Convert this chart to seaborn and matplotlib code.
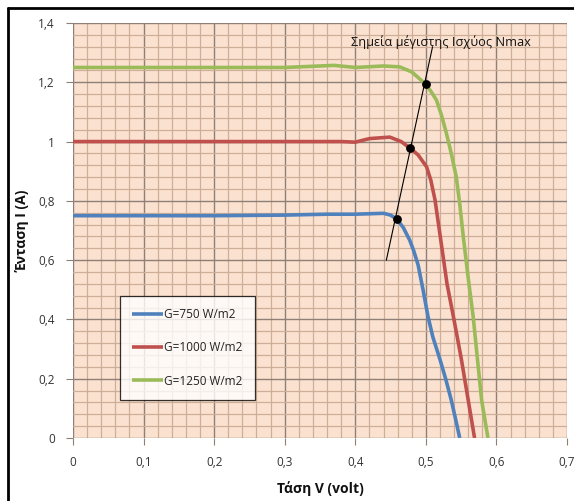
import numpy as np
import pandas as pd
import matplotlib
matplotlib.use("Agg")
import matplotlib.pyplot as plt
from matplotlib.ticker import MultipleLocator, FuncFormatter
import seaborn as sns

# ---- data ----
labels = ["G=750 W/m2", "G=1000 W/m2", "G=1250 W/m2"]
v_750 = [0, 0.1, 0.2, 0.3, 0.36, 0.40, 0.44, 0.45, 0.4585, 0.468, 0.477, 0.483, 0.489, 0.496, 0.503, 0.51, 0.52, 0.528, 0.536, 0.542, 0.548]
i_750 = [0.75, 0.75, 0.75, 0.752, 0.755, 0.755, 0.758, 0.752, 0.739, 0.71, 0.668, 0.63, 0.584, 0.50, 0.41, 0.34, 0.265, 0.20, 0.128, 0.065, 0.0]
v_1000 = [0, 0.1, 0.2, 0.3, 0.38, 0.40, 0.42, 0.449, 0.465, 0.477, 0.489, 0.501, 0.507, 0.513, 0.518, 0.524, 0.53, 0.539, 0.55, 0.56, 0.569]
i_1000 = [1.0, 1.0, 1.0, 1.0, 1.0, 0.998, 1.01, 1.015, 1.0, 0.979, 0.955, 0.915, 0.87, 0.803, 0.72, 0.62, 0.52, 0.41, 0.27, 0.128, 0.0]
v_1250 = [0, 0.1, 0.2, 0.3, 0.37, 0.40, 0.44, 0.463, 0.48, 0.4995, 0.507, 0.515, 0.522, 0.529, 0.536, 0.543, 0.548, 0.553, 0.56, 0.567, 0.579, 0.588]
i_1250 = [1.25, 1.25, 1.25, 1.25, 1.257, 1.25, 1.255, 1.252, 1.235, 1.194, 1.17, 1.14, 1.09, 1.029, 0.96, 0.882, 0.79, 0.68, 0.54, 0.41, 0.128, 0.0]
mpp_v = [0.4585, 0.477, 0.4995]
mpp_i = [0.739, 0.979, 1.194]
locus_v = [0.444, 0.5095]
locus_i = [0.60, 1.32]
annot_text = "Σημεία μέγιστης Ισχύος Nmax"
xlabel = "Τάση V (volt)"
ylabel = "Ένταση I (A)"

colors = ["#4F81BD", "#C0504D", "#9BBB59"]

df = pd.concat([
    pd.DataFrame({"V": v_750, "I": i_750, "G": labels[0]}),
    pd.DataFrame({"V": v_1000, "I": i_1000, "G": labels[1]}),
    pd.DataFrame({"V": v_1250, "I": i_1250, "G": labels[2]}),
], ignore_index=True)

sns.set_theme(style="white")
plt.rcParams["font.family"] = ["Open Sans", "DejaVu Sans"]

W, H = 574, 501
fig = plt.figure(figsize=(W / 100, H / 100), dpi=100)
fig.patch.set_facecolor("white")
ax = fig.add_axes([73 / W, 1 - 438 / H, (567 - 73) / W, (438 - 23) / H])
ax.set_facecolor("#FBE2D0")

# grid
ax.set_xlim(0, 0.7)
ax.set_ylim(0, 1.4)
ax.xaxis.set_major_locator(MultipleLocator(0.1))
ax.xaxis.set_minor_locator(MultipleLocator(0.02))
ax.yaxis.set_major_locator(MultipleLocator(0.2))
ax.yaxis.set_minor_locator(MultipleLocator(0.04))
ax.grid(which="minor", color="#CDAE98", linewidth=0.9)
ax.grid(which="major", color="#8E8076", linewidth=1.0)
ax.set_axisbelow(True)

sns.lineplot(data=df, x="V", y="I", hue="G", palette=colors, linewidth=2.6,
             sort=False, estimator=None, ax=ax, legend=True, zorder=3)
for ln in ax.get_lines():
    ln.set_solid_joinstyle("round")
    ln.set_solid_capstyle("butt")

ax.plot(locus_v, locus_i, color="black", linewidth=0.8, zorder=4)
sns.scatterplot(x=mpp_v, y=mpp_i, color="black", s=40, edgecolor="black",
                linewidth=0, ax=ax, zorder=5)

ax.text(0.521, 1.337, annot_text, ha="center", va="center", fontsize=9.2,
        color="#111111", zorder=6)

fmt = FuncFormatter(lambda v, p: ("%g" % round(v, 2)).replace(".", ","))
ax.xaxis.set_major_formatter(fmt)
ax.yaxis.set_major_formatter(fmt)
ax.tick_params(axis="both", which="major", length=5, width=0.8, color="#8E8076",
               labelsize=8.5, labelcolor="#333333", bottom=True, left=True)
ax.tick_params(axis="x", pad=8)
ax.tick_params(axis="y", pad=8)
ax.tick_params(which="minor", length=0)

for s in ax.spines.values():
    s.set_visible(False)

ax.set_xlabel(xlabel, fontsize=10, fontweight="bold", color="#111111", labelpad=9)
ax.set_ylabel(ylabel, fontsize=10, fontweight="bold", color="#111111", labelpad=6)

leg = ax.legend(loc="upper left", bbox_to_anchor=((120 - 73) / (567 - 73), 1 - (296 - 23) / (438 - 23)),
                frameon=True, fancybox=False, edgecolor="black", facecolor="white",
                fontsize=8.5, handlelength=2.6, handletextpad=0.1, labelspacing=1.7,
                borderpad=1.05, borderaxespad=0)
leg.get_frame().set_linewidth(0.9)
for t in leg.get_texts():
    t.set_color("#222222")

# outer frame
fig.add_artist(plt.Line2D([8 / W, 8 / W], [0, 1 - 8 / H], transform=fig.transFigure, color="black", linewidth=2))
fig.add_artist(plt.Line2D([8 / W, 1], [1 - 8 / H, 1 - 8 / H], transform=fig.transFigure, color="black", linewidth=2))

fig.savefig("out.png", dpi=100)
